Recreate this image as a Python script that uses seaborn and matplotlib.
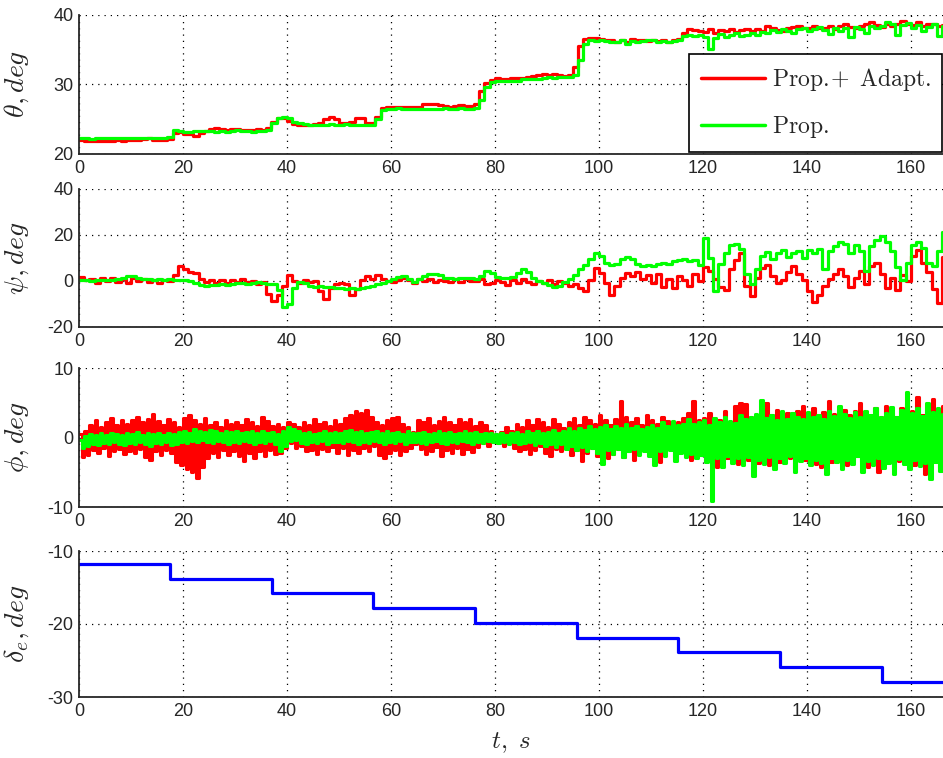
import matplotlib
matplotlib.use("Agg")
import matplotlib.pyplot as plt
import numpy as np
import pandas as pd
import seaborn as sns
from matplotlib import font_manager

# time base of the sampled signals, s
t = np.arange(0, 167)

theta_adapt = [
    22.0, 21.9, 21.8, 21.9, 21.9, 21.8, 21.9, 22.0, 21.9, 22.0,
    22.0, 22.0, 22.1, 22.3, 22.0, 22.0, 22.0, 22.1, 23.0, 23.2,
    22.9, 22.8, 22.6, 23.0, 23.3, 23.6, 23.7, 23.6, 23.5, 23.6,
    23.6, 23.4, 23.5, 23.4, 23.6, 23.5, 23.7, 24.6, 25.2, 25.1,
    24.8, 24.3, 24.2, 24.2, 24.2, 24.3, 24.5, 25.0, 25.3, 25.0,
    24.5, 24.4, 24.6, 25.1, 25.1, 24.5, 24.4, 25.3, 26.6, 26.8,
    26.8, 26.8, 26.7, 26.8, 26.7, 26.8, 27.1, 27.2, 27.1, 27.0,
    26.9, 26.8, 26.9, 27.0, 26.9, 26.9, 27.2, 29.0, 30.2, 30.6,
    30.9, 30.8, 30.8, 30.9, 30.9, 30.9, 31.1, 31.2, 31.3, 31.4,
    31.3, 31.4, 31.3, 31.2, 31.3, 32.5, 35.5, 36.5, 36.7, 36.6,
    36.5, 36.4, 36.3, 36.1, 36.4, 36.0, 36.5, 36.3, 36.4, 36.2,
    36.4, 36.2, 36.3, 36.1, 36.3, 36.5, 37.4, 37.9, 37.8, 37.6,
    37.5, 37.9, 37.4, 37.8, 37.6, 37.9, 37.5, 37.8, 37.9, 37.6,
    37.9, 37.7, 38.3, 38.0, 37.8, 37.6, 38.0, 38.2, 38.4, 38.1,
    38.0, 38.3, 38.1, 38.0, 38.4, 37.9, 38.3, 38.6, 38.2, 38.0,
    38.3, 38.6, 38.9, 38.5, 38.2, 38.6, 38.3, 38.7, 39.0, 38.6,
    38.5, 38.9, 38.4, 38.6, 38.7, 38.3, 38.5,
]
theta_prop = [
    22.3, 22.3, 22.2, 22.3, 22.3, 22.3, 22.3, 22.3, 22.3, 22.3,
    22.3, 22.3, 22.3, 22.3, 22.3, 22.3, 22.3, 22.5, 23.4, 23.3,
    23.1, 23.2, 23.3, 23.3, 23.3, 23.3, 23.2, 23.3, 23.2, 23.3,
    23.4, 23.3, 23.3, 23.2, 23.3, 23.3, 23.5, 24.5, 25.2, 25.3,
    25.1, 24.6, 24.4, 24.3, 24.2, 24.1, 24.2, 24.2, 24.3, 24.2,
    24.2, 24.3, 24.2, 24.2, 24.1, 24.2, 24.2, 25.0, 26.3, 26.5,
    26.5, 26.6, 26.5, 26.4, 26.5, 26.5, 26.4, 26.5, 26.4, 26.5,
    26.6, 26.5, 26.4, 26.6, 26.5, 26.5, 26.6, 27.8, 29.6, 30.3,
    30.5, 30.4, 30.4, 30.5, 30.4, 30.7, 30.7, 30.8, 30.7, 30.9,
    31.0, 30.9, 31.0, 31.0, 31.1, 31.3, 33.5, 35.8, 36.3, 36.2,
    36.3, 36.2, 36.0, 36.1, 36.3, 35.8, 36.2, 36.1, 36.2, 36.3,
    36.3, 36.0, 36.2, 36.1, 36.2, 36.4, 36.9, 37.1, 36.9, 37.1,
    36.8, 35.0, 36.6, 37.2, 36.8, 37.0, 37.3, 36.9, 37.1, 37.3,
    37.0, 37.5, 37.3, 37.8, 37.5, 37.9, 37.6, 37.4, 37.9, 38.1,
    37.6, 37.9, 38.2, 37.8, 37.2, 38.1, 37.7, 38.0, 36.8, 38.2,
    37.9, 37.4, 38.3, 38.0, 38.4, 38.9, 38.6, 37.0, 38.5, 38.8,
    38.0, 38.5, 37.6, 38.2, 38.7, 36.9, 38.3,
]

psi_adapt = [
    1.8, 0.3, 1.0, -0.8, 1.2, 0.0, 1.5, -0.5, 0.8, -0.7,
    1.3, 0.2, 1.0, -0.4, 0.6, -1.0, 0.5, 0.0, 2.5, 6.5,
    5.0, 4.0, 3.5, 1.0, -0.5, 0.5, -1.0, 0.3, -0.8, 0.6,
    -0.5, 0.8, -0.3, 0.2, -1.2, -0.6, -5.5, -8.5, -6.0, -2.0,
    2.5, 0.0, -0.8, 0.5, -0.5, 0.2, -4.5, -8.0, -3.0, -1.5,
    -0.8, -1.5, -6.0, -3.5, 0.5, 2.0, 1.0, 2.5, 0.8, 0.0,
    -0.5, 0.5, 1.5, 0.5, -1.0, 0.8, 0.0, 1.0, -0.5, 0.6,
    0.0, -0.3, 0.8, -0.6, 1.0, -0.2, 0.0, 0.7, -1.5, -0.8,
    0.3, -0.5, -1.8, 0.5, -1.0, 0.8, -0.5, -1.5, 0.2, -0.8,
    0.5, -1.2, 0.2, -0.8, -2.0, -1.5, -3.0, -4.5, 0.5, 5.5,
    3.5, -1.0, -6.0, -2.0, 1.5, 3.5, 2.0, 4.0, 1.0, 2.5,
    -1.0, 3.0, -2.5, 1.0, -3.0, 2.0, 0.5, -2.0, 3.0, 0.0,
    6.0, 4.5, 1.0, -2.5, -4.0, 5.0, 9.0, 12.0, -2.0, -6.5,
    1.5, 5.5, 7.0, 2.0, -1.0, 0.5, 4.0, 6.5, 3.0, 0.5,
    -4.5, -9.0, -6.0, -2.0, 1.0, 3.0, 5.0, 2.0, -2.5, 1.5,
    4.5, -1.5, 6.5, 8.0, 3.0, -3.0, 1.5, -4.0, 2.5, 0.0,
    11.0, 13.5, 8.0, 4.0, -3.5, -9.5, 10.5,
]
psi_prop = [
    0.5, 0.4, 0.2, 0.5, 0.3, 0.6, 0.4, 0.8, 1.5, 2.0,
    2.2, 1.5, 1.0, 0.8, 0.5, 0.9, 0.6, 0.7, 0.5, 0.4,
    0.3, 0.0, -1.0, -1.8, -2.0, -1.8, -1.9, -1.5, -1.8, -1.2,
    -1.0, -0.8, -1.2, -0.8, -0.5, -1.0, -1.2, -1.5, -4.0, -11.5,
    -10.0, -3.0, -0.5, -1.0, -2.0, -2.5, -2.2, -2.5, -2.8, -3.0,
    -3.2, -3.3, -3.0, -3.5, -3.2, -2.8, -2.0, -1.5, -1.0, 0.0,
    1.0, 1.8, 2.0, 1.0, -0.5, 0.8, 2.0, 3.0, 3.2, 2.5,
    1.5, 1.2, 1.0, 1.3, 1.5, 1.2, 1.0, 2.0, 4.5, 3.5,
    1.8, 1.5, 1.2, 1.8, 3.5, 5.0, 4.0, 1.5, 0.0, -1.0,
    -1.8, -2.5, -2.2, -0.5, 0.8, 2.5, 5.0, 7.0, 9.5, 12.0,
    11.0, 8.0, 7.0, 7.5, 9.5, 10.5, 9.5, 7.5, 6.5, 7.0,
    6.5, 7.5, 8.0, 7.5, 8.5, 9.0, 9.5, 8.5, 9.0, 7.0,
    18.5, 10.0, -4.5, 7.5, 12.0, 15.5, 16.0, 14.0, 3.0, -1.5,
    5.0, 11.0, 12.5, 9.5, 12.0, 13.5, 10.5, 12.0, 13.0, 10.0,
    13.5, 12.0, 14.0, 5.0, 13.0, 15.0, 17.0, 16.0, 12.0, 15.5,
    13.0, 4.5, 15.0, 18.0, 19.5, 17.0, 13.0, 6.0, 0.5, 8.0,
    15.5, 17.0, 14.5, 8.0, 6.5, 13.0, 21.5,
]

# phi swings: per-second upper and lower excursions
phi_adapt_hi = [
    0.5, 1.0, 1.8, 2.5, 1.5, 2.2, 2.8, 1.8, 2.5, 2.0,
    2.5, 3.0, 2.2, 2.6, 3.4, 2.4, 1.8, 2.7, 2.2, 1.5,
    2.8, 3.2, 2.5, 2.0, 2.8, 1.8, 2.3, 1.5, 2.5, 2.0,
    2.2, 1.8, 2.6, 2.3, 1.7, 2.9, 2.4, 1.6, 2.0, 1.5,
    2.3, 2.0, 1.5, 2.2, 1.8, 2.6, 1.9, 2.3, 1.6, 2.5,
    2.0, 2.8, 3.2, 3.8, 3.5, 4.0, 3.0, 2.2, 1.8, 2.5,
    2.8, 3.0, 2.0, 1.5, 0.8, 2.5, 2.2, 2.8, 1.8, 2.4,
    3.0, 2.2, 1.8, 2.6, 2.2, 2.7, 1.6, 2.3, 1.8, 1.0,
    0.5, 0.8, 1.5, 1.0, 2.0, 1.5, 2.5, 1.8, 2.7, 2.2,
    1.5, 2.6, 2.0, 1.4, 2.2, 2.8, 1.8, 3.0, 2.5, 2.0,
    3.2, 2.5, 1.8, 2.6, 5.2, 3.0, 2.2, 2.8, 1.8, 3.3,
    2.5, 2.0, 3.0, 2.4, 1.6, 2.3, 2.8, 3.5, 5.3, 2.5,
    2.8, 3.5, 1.8, 2.5, 3.8, 2.2, 4.5, 5.0, 4.8, 3.0,
    2.5, 3.8, 5.0, 3.2, 4.0, 2.8, 3.5, 2.6, 3.8, 4.5,
    3.0, 4.2, 2.5, 3.6, 5.2, 3.4, 2.8, 4.0, 3.2, 3.8,
    5.0, 3.0, 2.4, 4.3, 3.0, 4.6, 3.5, 3.0, 4.2, 5.0,
    3.8, 5.8, 3.2, 4.0, 5.6, 3.0, 4.5,
]
phi_adapt_lo = [
    -2.8, -2.5, -1.8, -2.2, -1.5, -2.6, -2.0, -1.7, -2.4, -1.9,
    -2.3, -1.6, -2.8, -3.2, -2.0, -2.5, -1.8, -2.2, -3.5, -4.0,
    -4.5, -5.0, -5.8, -4.2, -3.0, -2.2, -2.8, -1.8, -2.5, -2.0,
    -2.6, -3.4, -2.3, -3.0, -2.0, -2.6, -1.8, -2.4, -2.2, -1.5,
    -0.8, -1.5, -1.2, -2.0, -1.8, -2.4, -1.6, -2.0, -1.3, -2.2,
    -1.5, -2.5, -1.8, -2.2, -1.5, -2.0, -1.2, -2.5, -3.0, -2.2,
    -1.8, -2.5, -2.0, -1.5, -1.0, -1.6, -2.4, -2.0, -1.4, -2.6,
    -1.8, -2.2, -1.5, -2.4, -1.7, -2.1, -1.3, -0.8, -1.2, -0.6,
    -0.8, -1.2, -0.7, -1.5, -2.0, -1.6, -2.4, -1.8, -1.2, -2.2,
    -2.7, -1.6, -2.0, -1.2, -2.5, -1.8, -3.4, -2.2, -1.5, -2.6,
    -1.8, -3.0, -2.4, -1.6, -2.8, -2.0, -3.2, -2.3, -1.8, -2.5,
    -2.0, -3.5, -2.2, -1.6, -2.9, -2.0, -2.6, -3.3, -1.8, -2.5,
    -3.4, -2.0, -4.2, -2.6, -3.0, -2.3, -3.8, -2.5, -3.2, -2.0,
    -3.6, -2.8, -4.0, -2.2, -3.5, -2.7, -3.0, -4.5, -2.5, -3.2,
    -2.6, -3.8, -4.2, -2.8, -3.5, -2.4, -3.0, -4.0, -3.3, -2.7,
    -3.5, -4.2, -3.0, -5.0, -3.2, -2.6, -4.6, -3.4, -2.8, -3.6,
    -4.0, -3.0, -5.2, -3.5, -2.8, -4.4, -3.2,
]
phi_prop_hi = [
    -0.3, 0.2, 0.5, 0.3, 0.6, 0.4, 0.7, 0.5, 0.4, 0.6,
    0.5, 0.8, 0.4, 0.6, 0.5, 0.7, 0.4, 0.6, 0.5, 0.8,
    1.0, 0.7, 1.2, 1.0, 0.8, 1.1, 0.9, 0.7, 1.0, 0.8,
    0.9, 0.6, 0.8, 1.0, 0.7, 0.9, 0.6, 0.8, 0.5, 1.0,
    1.5, 1.2, 0.9, 0.6, 0.8, 0.5, 0.7, 1.0, 0.6, 0.8,
    0.7, 0.9, 1.1, 0.8, 1.0, 0.6, 0.8, 1.0, 0.7, 0.9,
    0.6, 0.8, 0.5, 0.9, 0.7, 0.6, 0.8, 0.5, 0.7, 0.9,
    0.6, 0.8, 0.5, 0.7, 0.9, 0.6, 0.8, 0.5, 0.7, 0.6,
    0.5, 0.7, 0.4, 0.6, 0.8, 0.5, 0.9, 0.6, 1.0, 0.7,
    0.8, 1.1, 0.7, 1.0, 1.3, 0.9, 1.4, 1.1, 1.6, 1.2,
    1.5, 1.8, 1.2, 1.6, 1.3, 1.9, 1.4, 1.7, 1.2, 1.5,
    1.8, 1.4, 2.2, 1.6, 2.4, 1.8, 2.0, 2.6, 1.9, 2.2,
    2.5, 1.8, 2.8, 2.2, 3.0, 2.4, 2.1, 3.2, 2.6, 2.9,
    3.4, 5.4, 2.8, 3.2, 2.5, 3.8, 2.7, 3.5, 3.0, 2.6,
    3.6, 2.9, 3.3, 2.7, 3.8, 3.1, 4.5, 3.4, 2.8, 3.6,
    3.0, 3.8, 3.3, 4.2, 2.9, 3.5, 4.4, 3.0, 4.0, 6.6,
    3.5, 4.3, 3.1, 5.0, 3.6, 4.2, 3.4,
]
phi_prop_lo = [
    -1.5, -1.2, -0.9, -1.1, -0.8, -1.0, -0.7, -0.9, -1.1, -0.8,
    -1.0, -0.7, -0.9, -1.2, -0.8, -1.0, -0.7, -1.1, -0.9, -0.6,
    -0.8, -0.5, -0.7, -0.4, -0.6, -0.8, -0.5, -0.7, -0.9, -0.6,
    -0.8, -0.5, -0.7, -1.0, -0.6, -0.8, -0.5, -0.9, -2.0, -1.2,
    -0.5, -0.3, -0.8, -1.0, -0.6, -0.8, -0.5, -0.9, -0.7, -0.6,
    -0.8, -0.5, -0.7, -0.9, -0.6, -0.8, -0.5, -0.7, -0.9, -0.6,
    -0.8, -0.5, -0.9, -0.7, -0.6, -0.8, -1.0, -0.7, -0.5, -0.8,
    -0.9, -0.6, -0.8, -0.5, -0.7, -0.9, -0.6, -0.8, -0.5, -0.7,
    -0.8, -0.6, -0.9, -0.7, -1.0, -0.8, -0.6, -1.1, -0.8, -1.2,
    -0.9, -1.3, -1.0, -1.6, -1.2, -1.8, -1.4, -2.0, -1.5, -2.2,
    -3.8, -1.8, -2.4, -1.6, -2.8, -2.0, -1.7, -2.5, -1.9, -2.6,
    -4.0, -2.0, -2.7, -1.8, -3.4, -2.2, -2.8, -2.4, -3.0, -2.5,
    -3.5, -9.2, -3.0, -4.2, -2.6, -3.6, -3.0, -4.0, -2.8, -5.5,
    -3.2, -3.8, -2.8, -4.5, -3.0, -3.6, -2.6, -5.0, -3.4, -2.9,
    -4.0, -3.2, -3.7, -5.2, -3.0, -3.5, -4.6, -3.2, -3.8, -2.7,
    -5.0, -3.4, -3.9, -3.0, -4.4, -3.6, -5.2, -3.1, -3.8, -4.5,
    -3.3, -4.1, -3.6, -6.0, -3.5, -4.8, -3.0,
]

# elevator command steps
de_times = [0, 17.5, 37.1, 56.6, 76.2, 95.7, 115.3, 134.9, 154.5, 166.5]
de_levels = [-11.8, -13.8, -15.8, -17.8, -19.9, -21.9, -23.8, -25.9, -27.9, -27.9]

RED = (1.0, 0.0, 0.0)
GREEN = (0.0, 1.0, 0.0)
BLUE = (0.0, 0.0, 1.0)


def zigzag(hi, lo):
    # alternate the upper and lower swing within each second
    times = np.ravel(np.column_stack([t, t + 0.5]))
    values = np.ravel(np.column_stack([hi, lo]))
    return pd.DataFrame({"t": times, "v": values})


sns.set_theme(style="white")
installed = {f.name for f in font_manager.fontManager.ttflist}
tick_font = "Liberation Sans" if "Liberation Sans" in installed else "DejaVu Sans"
plt.rcParams["font.family"] = [tick_font, "DejaVu Sans"]
plt.rcParams["mathtext.fontset"] = "cm"
plt.rcParams["axes.unicode_minus"] = False

fig = plt.figure(figsize=(9.43, 7.58), dpi=100)
W, H = 943.0, 758.0
left = 79 / W
width = 1.0 - left
boxes = [(14.5, 154), (189, 327), (368, 507), (551, 697)]
axes = [fig.add_axes([left, 1 - b / H, width, (b - a) / H]) for a, b in boxes]
ax1, ax2, ax3, ax4 = axes

lw = 2.3
step = dict(estimator=None, sort=False, drawstyle="steps-post")
sns.lineplot(x=t, y=theta_adapt, ax=ax1, color=RED, linewidth=lw, label=r"$\mathrm{Prop.}\!\!+\ \mathrm{Adapt.}$", **step)
sns.lineplot(x=t, y=theta_prop, ax=ax1, color=GREEN, linewidth=lw, label=r"$\mathrm{Prop.}$", **step)
sns.lineplot(x=t, y=psi_adapt, ax=ax2, color=RED, linewidth=lw, **step)
sns.lineplot(x=t, y=psi_prop, ax=ax2, color=GREEN, linewidth=lw, **step)
red_phi = zigzag(phi_adapt_hi, phi_adapt_lo)
green_phi = zigzag(phi_prop_hi, phi_prop_lo)
sns.lineplot(data=red_phi, x="t", y="v", ax=ax3, color=RED, linewidth=2.2, **step)
sns.lineplot(data=green_phi, x="t", y="v", ax=ax3, color=GREEN, linewidth=2.2, **step)
sns.lineplot(x=de_times, y=de_levels, ax=ax4, color=BLUE, linewidth=2.3, **step)

limits = [(20, 40), (-20, 40), (-10, 10), (-30, -10)]
yticks = [[20, 30, 40], [-20, 0, 20, 40], [-10, 0, 10], [-30, -20, -10]]
ylabels = [r"$\theta, deg$", r"$\psi, deg$", r"$\phi, deg$", r"$\delta_e, deg$"]
for ax, lim, ticks, lab in zip(axes, limits, yticks, ylabels):
    ax.set_xlim(0, 166.2)
    ax.set_ylim(*lim)
    ax.set_xticks(range(0, 170, 20))
    ax.set_yticks(ticks)
    ax.grid(True, color="black", linestyle=(0, (1, 4)), linewidth=0.9)
    ax.tick_params(direction="in", length=6.5, width=1.0, colors="black", labelsize=13, pad=4)
    sns.despine(ax=ax)
    for side in ("left", "bottom"):
        ax.spines[side].set_color("#262626")
        ax.spines[side].set_linewidth(1.3)
    ax.set_ylabel(lab, fontsize=20, color="#262626")
    ax.yaxis.set_label_coords(-0.056, 0.5)
    ax.set_xlabel("")
    for lbl in ax.get_xticklabels() + ax.get_yticklabels():
        lbl.set_color("#262626")

ax4.set_xlabel(r"$t,\ s$", fontsize=18, color="#262626")
ax4.xaxis.set_label_coords(0.5, -0.23)

leg = ax1.legend(loc="upper left", bbox_to_anchor=(0.706, 0.717), fontsize=17,
                 frameon=True, fancybox=False, framealpha=1, edgecolor="black",
                 handlelength=2.7, handletextpad=0.3, labelspacing=0.9, borderpad=0.5,
                 borderaxespad=0)
leg.get_frame().set_linewidth(1.2)
for line in leg.get_lines():
    line.set_linewidth(2.5)

fig.savefig("out.png", dpi=100)
